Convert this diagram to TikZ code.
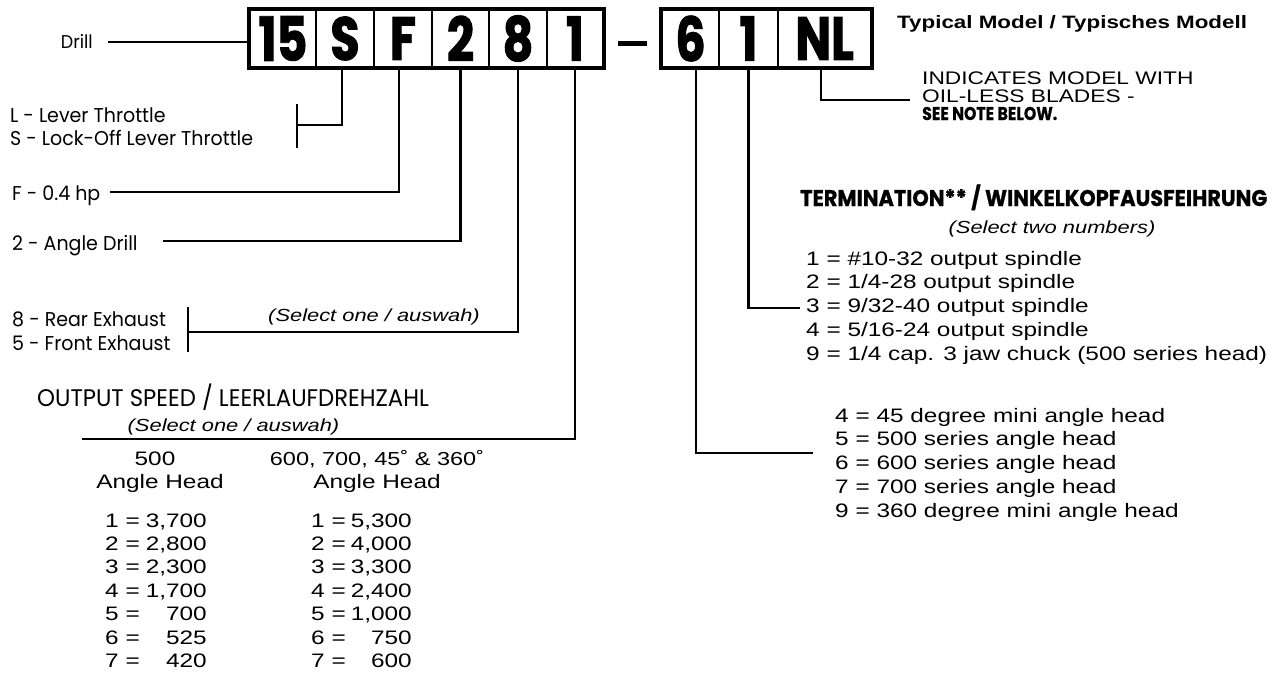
\documentclass[tikz,border=0pt]{standalone}
\usepackage{fontspec}
\setmainfont{Liberation Sans}[FakeStretch=1.25]
\newfontfamily\fut{Poppins}[FakeStretch=0.95]
\newfontfamily\futbold{Poppins}[FakeStretch=0.85, BoldFeatures={FakeBold=0.6}]
\newfontfamily\futboldw{Poppins}[FakeStretch=0.92, BoldFeatures={FakeBold=0.8}]
\newfontfamily\boxf{Poppins}[FakeStretch=0.78, BoldFeatures={FakeBold=1.5}]
\usetikzlibrary{calc}
\begin{document}
\begin{tikzpicture}[x=1pt,y=-1pt,
  cell/.style={draw, line width=2pt, minimum height=57pt, inner sep=0pt, font=\boxf\bfseries\fontsize{61}{61}\selectfont},
  lead/.style={line width=2.2pt},
  ft/.style={inner sep=0pt, anchor=base west, font=\fut\fontsize{20}{24}\selectfont},
  ar/.style={inner sep=0pt, anchor=base west, font=\fontsize{19.5}{24}\selectfont},
  itx/.style={inner sep=0pt, anchor=base, font=\itshape\fontsize{17.5}{20}\selectfont},
]
\fill[white] (0,0) rectangle (1282,673);
\useasboundingbox (0,0) rectangle (1282,673);

% model code cells
\node[cell, minimum width=66pt] (c15) at (283,38.5) {15};
\node[cell, minimum width=58pt] (cS) at (345,38.5) {S};
\node[cell, minimum width=58pt] (cF) at (403,38.5) {F};
\node[cell, minimum width=57pt] (c2) at (460.5,38.5) {2};
\node[cell, minimum width=58pt] (c8) at (518,38.5) {8};
\node[cell, minimum width=56pt] (c1) at (575,38.5) {1};
\node[cell, minimum width=57pt] (c6) at (690.5,38.5) {6};
\node[cell, minimum width=59pt] (c1b) at (748.5,38.5) {1};
\node[cell, minimum width=93pt] (cNL) at (824.5,38.5) {NL};
\draw[line width=3.2pt] (c15.north west) rectangle (c1.south east);
\draw[line width=3.2pt] (c6.north west) rectangle (cNL.south east);
\node[fill=black, minimum width=29pt, minimum height=5pt, inner sep=0pt] (dash) at (632.5,43) {};

% title
\node[inner sep=0pt, anchor=base west, font=\bfseries\fontsize{17.9}{20}\selectfont] (title) at (897,28) {Typical Model / Typisches Modell};

% left labels
\node[ft, anchor=base east, font=\fut\fontsize{18.5}{22}\selectfont] (drill) at (93,48.5) {Drill};
\coordinate (drillEnd) at (108,42);
\draw[lead] (drillEnd) -- (drillEnd -| c15.west);

\node[ft] (lL) at (10,122) {L - Lever Throttle};
\node[ft] (lS) at (10,145) {S - Lock-Off Lever Throttle};
\coordinate (sEnd) at (297,125);
\coordinate (sTop) at (297,104);
\coordinate (sBot) at (297,148);
\draw[lead] ([xshift=-3pt]cS.south) |- (sEnd);
\draw[lead] (sTop) -- (sBot);

\node[ft] (lF) at (12,200) {F - 0.4 hp};
\coordinate (fEnd) at (110,192);
\draw[lead] ([xshift=-4pt]cF.south) |- (fEnd);

\node[ft] (l2) at (12,250) {2 - Angle Drill};
\coordinate (tEnd) at (163,241);
\draw[lead] (c2.south) |- (tEnd);

\node[ft] (l8) at (12,326) {8 - Rear Exhaust};
\node[ft] (l5) at (12,350) {5 - Front Exhaust};
\coordinate (eEnd) at (188,332);
\coordinate (eTop) at (188,307);
\coordinate (eBot) at (188,352);
\draw[lead] (c8.south) |- (eEnd);
\draw[lead] (eTop) -- (eBot);
\node[itx] (sel1) at (374,321.3) {(Select one / auswah)};

% output speed
\node[ft, font=\fut\fontsize{24}{28}\selectfont] (osh) at (37,406.3) {OUTPUT SPEED / LEERLAUFDREHZAHL};
\node[itx] (sel2) at (233.5,431.3) {(Select one / auswah)};
\coordinate (oEnd) at (82,439);
\draw[lead] (c1.south) |- (oEnd);

\node[ar, anchor=base] (h1a) at (155,465) {500};
\node[ar, anchor=base] (h1b) at (160,488) {Angle Head};
\node[ar, anchor=base, font=\fontsize{18.8}{24}\selectfont] (h2a) at (377,465) {600, 700, 45˚ \& 360˚};
\node[ar, anchor=base] (h2b) at (377,488) {Angle Head};
\foreach \n/\v [count=\k] in {1/{3,700},2/{2,800},3/{2,300},4/{1,700},5/{700},6/{525},7/{420}}{
  \node[ar] (pa\k) at (105,{527+(\k-1)*23.4}) {\n{} =};
  \node[ar, anchor=base east] (pb\k) at (207,{527+(\k-1)*23.4}) {\v};
}
\foreach \n/\v [count=\k] in {1/{5,300},2/{4,000},3/{3,300},4/{2,400},5/{1,000},6/{750},7/{600}}{
  \node[ar] (qa\k) at (311,{527+(\k-1)*23.4}) {\n{} =};
  \node[ar, anchor=base east] (qb\k) at (412,{527+(\k-1)*23.4}) {\v};
}

% NL note
\node[ar, font=\fontsize{18.2}{22}\selectfont] (ind1) at (922,84) {INDICATES MODEL WITH};
\node[ar, font=\fontsize{18.2}{22}\selectfont] (ind2) at (922,102.5) {OIL-LESS BLADES -};
\node[ar, font=\futbold\bfseries\fontsize{18.5}{22}\selectfont] (ind3) at (922,120) {SEE NOTE BELOW.};
\coordinate (nlEnd) at (910,100);
\draw[lead] ([xshift=-3.5pt]cNL.south) |- (nlEnd);

% termination
\node[ar, font=\futboldw\bfseries\fontsize{22.7}{26}\selectfont] (term) at (800,206) {TERMINATION** / WINKELKOPFAUSFEIHRUNG};
\node[itx] (sel3) at (1052,233.3) {(Select two numbers)};
\foreach \t [count=\k] in {{1 = \#10-32 output spindle},{2 = 1/4-28 output spindle},{3 = 9/32-40 output spindle},{4 = 5/16-24 output spindle},{9 = 1/4 cap. 3 jaw chuck (500 series head)}}{
  \node[ar] (tm\k) at (806,{265+(\k-1)*23.75}) {\t};
}
\coordinate (termEnd) at (800,308);
\draw[lead] (c1b.south) |- (termEnd);

% angle head
\foreach \t [count=\k] in {{4 = 45 degree mini angle head},{5 = 500 series angle head},{6 = 600 series angle head},{7 = 700 series angle head},{9 = 360 degree mini angle head}}{
  \node[ar] (ah\k) at (835,{422+(\k-1)*23.75}) {\t};
}
\coordinate (sixEnd) at (813,453);
\draw[lead] ([xshift=5.5pt]c6.south) |- (sixEnd);
\end{tikzpicture}
\end{document}
